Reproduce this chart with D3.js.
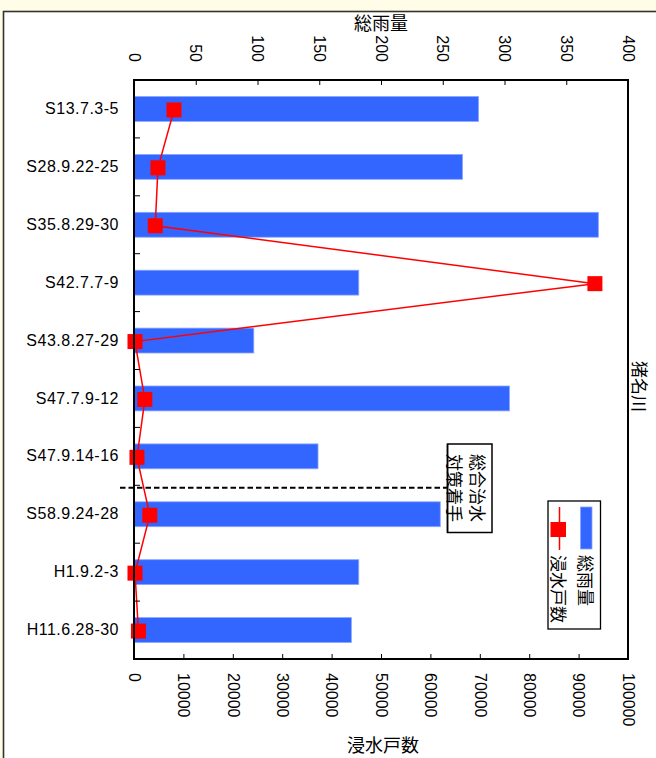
<!DOCTYPE html>
<html>
<head>
<meta charset="utf-8">
<script src="https://cdn.jsdelivr.net/npm/d3@7"></script>
<style>
  html, body { margin: 0; padding: 0; background: #FFFCE8; }
  svg { display: block; }
  .lat { font-family: "Liberation Sans", Arial, sans-serif; }
  .jp { font-family: "Noto Sans CJK JP", "Noto Sans CJK SC", sans-serif; }
</style>
</head>
<body>
<svg id="chart" width="656" height="758"></svg>
<script>
// ---- data ----
const categories = ["S13.7.3-5", "S28.9.22-25", "S35.8.29-30", "S42.7.7-9", "S43.8.27-29",
                    "S47.7.9-12", "S47.9.14-16", "S58.9.24-28", "H1.9.2-3", "H11.6.28-30"];
const rainfall = [279, 266, 376, 182, 97, 304, 149, 248, 182, 176];          // 総雨量
const floodedHouses = [8100, 4850, 4300, 93300, 200, 2200, 600, 3200, 200, 900]; // 浸水戸数
const rainTicks = [0, 50, 100, 150, 200, 250, 300, 350, 400];
const floodTicks = [0, 10000, 20000, 30000, 40000, 50000, 60000, 70000, 80000, 90000, 100000];
const rainTitle = "総雨量";
const floodTitle = "浸水戸数";
const riverName = "猪名川";
const noteLines = ["総合治水", "対策着手"];
const noteAfter = "S58.9.24-28";

// ---- layout ----
const svg = d3.select("#chart");
const L = 134, R = 628, T = 80, B = 659;

// outer white panel
svg.append("rect").attr("x", 3.5).attr("y", 11.5).attr("width", 700).attr("height", 800)
  .attr("fill", "#fff").attr("stroke", "#34342a").attr("stroke-width", 1.6);

const xRain = d3.scaleLinear().domain([0, 400]).range([L, R]);
const xFlood = d3.scaleLinear().domain([0, 100000]).range([L, R]);
const y = d3.scaleBand().domain(categories).range([T, B]).paddingInner(0.57).paddingOuter(0.285);

// bars
svg.append("g").selectAll("rect").data(categories).join("rect")
  .attr("x", xRain(0))
  .attr("y", c => y(c))
  .attr("width", (c, i) => xRain(rainfall[i]) - xRain(0))
  .attr("height", y.bandwidth())
  .attr("fill", "#3366FF")
  .attr("stroke", "#8aa6ff").attr("stroke-width", 0.8);

// line + markers
const pts = categories.map((c, i) => [xFlood(floodedHouses[i]), y(c) + y.bandwidth() / 2 + 1]);
svg.append("path").attr("d", d3.line()(pts)).attr("fill", "none")
  .attr("stroke", "#FF0000").attr("stroke-width", 1.5);
svg.append("g").selectAll("rect").data(pts).join("rect")
  .attr("x", d => d[0] - 7.5).attr("y", d => d[1] - 7.5)
  .attr("width", 15).attr("height", 15).attr("fill", "#FF0000");

// plot frame
svg.append("rect").attr("x", L).attr("y", T).attr("width", R - L).attr("height", B - T)
  .attr("fill", "none").attr("stroke", "#000").attr("stroke-width", 2);

// top axis (rainfall)
const topAxis = svg.append("g").attr("transform", `translate(0,${T})`)
  .call(d3.axisTop(xRain).tickValues(rainTicks).tickSizeInner(-5).tickSizeOuter(0));
topAxis.select(".domain").remove();
topAxis.selectAll("line").attr("stroke", "#000");
topAxis.selectAll("text").attr("class", "lat").attr("font-size", 16).attr("fill", "#000")
  .attr("x", 0).attr("y", 0).attr("dy", "0.36em")
  .attr("text-anchor", "end")
  .attr("transform", "translate(0,-18) rotate(90)");

// bottom axis (flooded houses)
const botAxis = svg.append("g").attr("transform", `translate(0,${B})`)
  .call(d3.axisBottom(xFlood).tickValues(floodTicks).tickFormat(d3.format("d")).tickSizeInner(-5).tickSizeOuter(0));
botAxis.select(".domain").remove();
botAxis.selectAll("line").attr("stroke", "#000");
botAxis.selectAll("text").attr("class", "lat").attr("font-size", 16).attr("fill", "#000")
  .attr("x", 0).attr("y", 0).attr("dy", "0.36em")
  .attr("text-anchor", "start")
  .attr("transform", "translate(0,14) rotate(90)");

// left axis (categories)
const leftAxis = svg.append("g").attr("transform", `translate(${L},0)`)
  .call(d3.axisLeft(y).tickSize(0).tickPadding(15));
leftAxis.select(".domain").remove();
leftAxis.selectAll("text").attr("class", "lat").attr("font-size", 16).attr("fill", "#000")
  .attr("letter-spacing", 0.5);
// boundary ticks (inward)
svg.append("g").selectAll("line").data(categories.slice(1)).join("line")
  .attr("x1", L).attr("x2", L + 6)
  .attr("y1", c => y(c) - y.paddingInner() * y.step() / 2)
  .attr("y2", c => y(c) - y.paddingInner() * y.step() / 2)
  .attr("stroke", "#000").attr("stroke-width", 1);

// axis titles
svg.append("text").attr("class", "jp").attr("x", (L + R) / 2 + 0).attr("y", 30)
  .attr("text-anchor", "middle").attr("font-size", 18).attr("fill", "#000").text(rainTitle);
svg.append("text").attr("class", "jp").attr("x", 383).attr("y", 752)
  .attr("text-anchor", "middle").attr("font-size", 18).attr("fill", "#000").text(floodTitle);

// river name (vertical)
svg.append("text").attr("class", "jp").attr("font-size", 17).attr("fill", "#000")
  .attr("transform", "translate(639,361) rotate(90)").attr("dy", "0.38em").text(riverName);

// dashed divider + note
const divY = y(noteAfter) - y.paddingInner() * y.step() / 2 + 2.5;
svg.append("line").attr("x1", 120).attr("x2", 447).attr("y1", divY).attr("y2", divY)
  .attr("stroke", "#000").attr("stroke-width", 2).attr("stroke-dasharray", "5.5,3");

const noteG = svg.append("g");
noteG.append("rect").attr("x", 447.5).attr("y", 444).attr("width", 44.5).attr("height", 88.5)
  .attr("fill", "#fff").attr("stroke", "#000").attr("stroke-width", 1.5);
const noteX = [477, 454];
noteLines.forEach((t, i) => {
  noteG.append("text").attr("class", "jp").attr("font-size", 17).attr("fill", "#000")
    .attr("transform", `translate(${noteX[i]},454) rotate(90)`).attr("dy", "0.38em").text(t);
});
// left border over clipped text
noteG.append("line").attr("x1", 447.5).attr("x2", 447.5).attr("y1", 444).attr("y2", 532.5)
  .attr("stroke", "#000").attr("stroke-width", 1.5);

// legend
const lg = svg.append("g");
lg.append("rect").attr("x", 548).attr("y", 501).attr("width", 52.5).attr("height", 128)
  .attr("fill", "#fff").attr("stroke", "#000").attr("stroke-width", 1.3);
lg.append("rect").attr("x", 580.5).attr("y", 507).attr("width", 11.5).attr("height", 42)
  .attr("fill", "#3366FF").attr("stroke", "#8aa6ff").attr("stroke-width", 0.8);
lg.append("line").attr("x1", 559.5).attr("x2", 559.5).attr("y1", 507).attr("y2", 550)
  .attr("stroke", "#FF0000").attr("stroke-width", 1.5);
lg.append("rect").attr("x", 550.5).attr("y", 522).attr("width", 15.5).attr("height", 15)
  .attr("fill", "#FF0000");
lg.append("text").attr("class", "jp").attr("font-size", 17).attr("fill", "#000")
  .attr("transform", "translate(585,555) rotate(90)").attr("dy", "0.38em").text(rainTitle);
lg.append("text").attr("class", "jp").attr("font-size", 17).attr("fill", "#000")
  .attr("transform", "translate(558,555) rotate(90)").attr("dy", "0.38em").text(floodTitle);
</script>
</body>
</html>
